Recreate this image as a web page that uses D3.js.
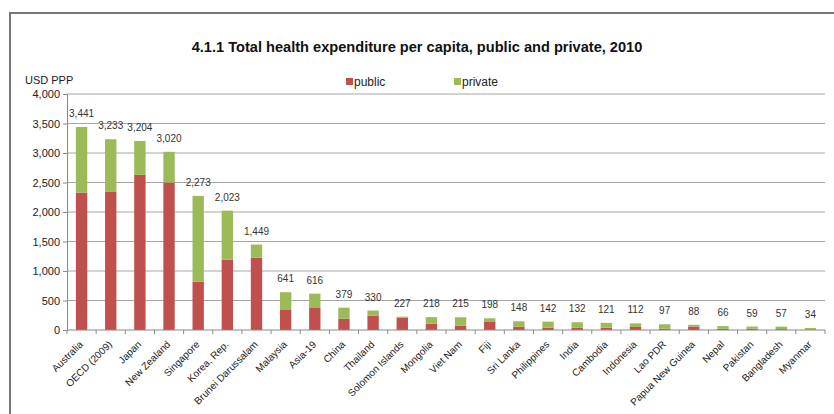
<html>
<head>
  <script src="https://cdn.jsdelivr.net/npm/d3@7"></script>
  <style>
    body { margin: 0; background: #fff; }
    text { font-family: "Liberation Sans", Arial, sans-serif; }
  </style>
</head>
<body>
  <div id="chart"></div>
  <script>

    // Countries / groups along the x axis
    var countries = ["Australia", "OECD (2009)", "Japan", "New Zealand", "Singapore", "Korea, Rep.",
      "Brunei Darussalam", "Malaysia", "Asia-19", "China", "Thailand", "Solomon Islands", "Mongolia",
      "Viet Nam", "Fiji", "Sri Lanka", "Philippines", "India", "Cambodia", "Indonesia", "Lao PDR",
      "Papua New Guinea", "Nepal", "Pakistan", "Bangladesh", "Myanmar"];

    // Public and private spending, USD PPP
    var publicValues = [2330, 2340, 2630, 2500, 820, 1190, 1225, 350, 373, 192, 243, 209, 107,
      73, 136, 56, 40, 38, 40, 51, 23, 60, 20, 20, 15, 8];
    var privateValues = [1111, 893, 574, 520, 1453, 833, 224, 291, 243, 187, 87, 18, 111,
      142, 62, 92, 102, 94, 81, 61, 74, 28, 46, 39, 42, 26];

    // Totals printed above the bars
    var totals = [3441, 3233, 3204, 3020, 2273, 2023, 1449, 641, 616, 379, 330, 227, 218,
      215, 198, 148, 142, 132, 121, 112, 97, 88, 66, 59, 57, 34];

    var yTicks = [0, 500, 1000, 1500, 2000, 2500, 3000, 3500, 4000];
    var seriesNames = ["public", "private"];
    var colors = {public: "#c0504d", private: "#9bbb59"};

    var width = 834, height = 414;
    var plot = {left: 67, right: 825, top: 94, bottom: 330};

    var svg = d3.select("#chart")
      .append("svg")
        .attr("width", width)
        .attr("height", height);

    // outer frame (only left and top edges are visible)
    svg.append("rect")
      .attr("x", 10).attr("y", 13)
      .attr("width", 900).attr("height", 500)
      .attr("fill", "none")
      .attr("stroke", "#777")
      .attr("stroke-width", 2);

    var x = d3.scaleBand()
      .domain(countries)
      .range([plot.left, plot.right])
      .paddingInner(0.61)
      .paddingOuter(0.305);

    var y = d3.scaleLinear()
      .domain([0, 4000])
      .range([plot.bottom, plot.top]);

    // gridlines
    svg.append("g")
      .selectAll("line")
      .data(yTicks.filter(d => d > 0))
      .join("line")
        .attr("x1", plot.left).attr("x2", plot.right)
        .attr("y1", d => y(d)).attr("y2", d => y(d))
        .attr("stroke", "#a6a6a6")
        .attr("stroke-width", 1);

    // stacked bars
    var rows = countries.map((c, i) => ({name: c, public: publicValues[i], private: privateValues[i]}));
    var stack = d3.stack().keys(seriesNames)(rows);

    svg.append("g")
      .selectAll("g")
      .data(stack)
      .join("g")
        .attr("fill", d => colors[d.key])
      .selectAll("rect")
      .data(d => d)
      .join("rect")
        .attr("x", d => x(d.data.name))
        .attr("y", d => y(d[1]))
        .attr("width", x.bandwidth())
        .attr("height", d => y(d[0]) - y(d[1]));

    // y axis
    var yAxis = svg.append("g")
      .attr("transform", `translate(${plot.left},0)`)
      .call(d3.axisLeft(y).tickValues(yTicks).tickSize(4).tickPadding(3).tickFormat(d3.format(",")));
    yAxis.select(".domain").attr("stroke", "#888");
    yAxis.selectAll(".tick line").attr("stroke", "#888");
    yAxis.selectAll(".tick text")
      .attr("font-size", "11px")
      .attr("fill", "#222")
      .style("font-family", "Liberation Sans, Arial, sans-serif");

    // x axis line and boundary ticks
    svg.append("line")
      .attr("x1", plot.left).attr("x2", plot.right)
      .attr("y1", plot.bottom).attr("y2", plot.bottom)
      .attr("stroke", "#888");

    svg.append("g")
      .selectAll("line")
      .data(d3.range(countries.length + 1))
      .join("line")
        .attr("x1", i => plot.left + i * x.step())
        .attr("x2", i => plot.left + i * x.step())
        .attr("y1", plot.bottom).attr("y2", plot.bottom + 4)
        .attr("stroke", "#888");

    // rotated category labels
    svg.append("g")
      .selectAll("text")
      .data(countries)
      .join("text")
        .attr("transform", d => `translate(${x(d) + x.bandwidth() / 2 + 2},${plot.bottom + 15}) rotate(-45)`)
        .attr("text-anchor", "end")
        .attr("font-size", "10px")
        .attr("fill", "#222")
        .text(d => d);

    // total labels
    svg.append("g")
      .selectAll("text")
      .data(totals)
      .join("text")
        .attr("x", (d, i) => x(countries[i]) + x.bandwidth() / 2)
        .attr("y", d => y(d) - 10)
        .attr("text-anchor", "middle")
        .attr("font-size", "10px")
        .attr("fill", "#333")
        .text(d => d3.format(",")(d));

    // title
    svg.append("text")
      .attr("x", 417).attr("y", 52)
      .attr("text-anchor", "middle")
      .attr("font-size", "14.6px")
      .attr("font-weight", "bold")
      .attr("fill", "#111")
      .text("4.1.1 Total health expenditure per capita, public and private, 2010");

    // y unit label
    svg.append("text")
      .attr("x", 25).attr("y", 84)
      .attr("font-size", "11px")
      .attr("fill", "#222")
      .text("USD PPP");

    // legend
    var legend = svg.append("g")
      .selectAll("g")
      .data(seriesNames)
      .join("g")
        .attr("transform", (d, i) => `translate(${346 + i * 108},78)`);
    legend.append("rect")
      .attr("width", 7).attr("height", 7)
      .attr("fill", d => colors[d]);
    legend.append("text")
      .attr("x", 8).attr("y", 8)
      .attr("font-size", "12px")
      .attr("fill", "#222")
      .text(d => d);

  </script>
</body>
</html>
